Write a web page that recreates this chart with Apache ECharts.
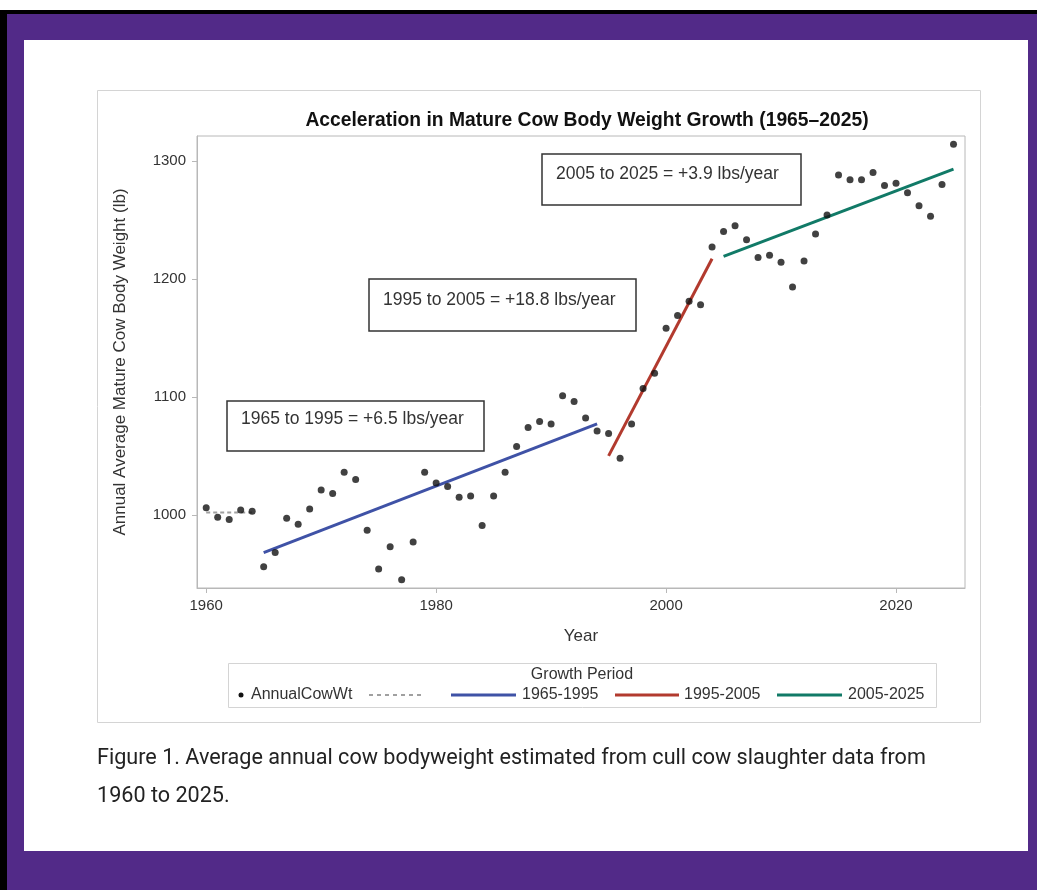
<!DOCTYPE html>
<html><head><meta charset="utf-8">
<script src="https://cdn.jsdelivr.net/npm/echarts@6/dist/echarts.min.js"></script>
<style>
html,body{margin:0;padding:0;background:#fff;width:1037px;height:890px;overflow:hidden;}
#frame{position:absolute;left:0;top:10px;width:1030px;height:876px;background:#522a88;border-left:7px solid #000;border-top:4px solid #000;}
#panel{position:absolute;left:24px;top:40px;width:1004px;height:811px;background:#fff;}
#chart{position:absolute;left:0;top:0;width:1037px;height:890px;}
#caption{position:absolute;left:97px;top:738px;font-family:Roboto,"Liberation Sans",sans-serif;font-size:21.6px;line-height:38px;color:#222;white-space:nowrap;}
</style></head>
<body>
<div id="frame"></div>
<div id="panel"></div>
<div id="chart"></div>
<div id="caption">Figure 1. Average annual cow bodyweight estimated from cull cow slaughter data from<br>1960 to 2025.</div>
<script>
const years = [1960,1961,1962,1963,1964,1965,1966,1967,1968,1969,1970,1971,1972,1973,1974,1975,1976,1977,1978,1979,1980,1981,1982,1983,1984,1985,1986,1987,1988,1989,1990,1991,1992,1993,1994,1995,1996,1997,1998,1999,2000,2001,2002,2003,2004,2005,2006,2007,2008,2009,2010,2011,2012,2013,2014,2015,2016,2017,2018,2019,2020,2021,2022,2023,2024,2025];
const weights = [1006,998,996,1004,1003,956,968,997,992,1005,1021,1018,1036,1030,987,954,973,945,977,1036,1027,1024,1015,1016,991,1016,1036,1058,1074,1079,1077,1101,1096,1082,1071,1069,1048,1077,1107,1120,1158,1169,1181,1178,1227,1240,1245,1233,1218,1220,1214,1193,1215,1238,1254,1288,1284,1284,1290,1279,1281,1273,1262,1253,1280,1314];
const preYears = [1960,1964];
const preLine = [1002,1002];
const trendYears1 = [1965,1994];
const trend1 = [968,1077];
const trendYears2 = [1995,2004];
const trend2 = [1050,1217];
const trendYears3 = [2005,2025];
const trend3 = [1219,1293];
const xTicks = [1960,1980,2000,2020];
const yTicks = [1000,1100,1200,1300];
const seriesNames = ['AnnualCowWt','1965-1995','1995-2005','2005-2025'];
const annotations = ['1965 to 1995 = +6.5 lbs/year','1995 to 2005 = +18.8 lbs/year','2005 to 2025 = +3.9 lbs/year'];

const FONT = '"Liberation Sans", Arial, sans-serif';
const BLUE = '#3f52a6', RED = '#b23a2e', GREEN = '#117a67';
const zip = (a,b) => a.map((v,i)=>[v,b[i]]);

const chart = echarts.init(document.getElementById('chart'));
const txt = {fontFamily: FONT, fontSize: 17.5, fill: '#333'};
const leg = {fontFamily: FONT, fontSize: 16, fill: '#333'};
chart.setOption({
  backgroundColor: 'transparent',
  animation: false,
  title: {text: 'Acceleration in Mature Cow Body Weight Growth (1965\u20132025)', left: 582, top: 106, textAlign: 'center',
    textStyle: {fontFamily: FONT, fontSize: 19.3, fontWeight: 'bold', color: '#111'}},
  grid: {left: 197, top: 136, right: 72, bottom: 302, show: true, borderColor: '#b8b8b8', borderWidth: 1, backgroundColor: 'transparent'},
  xAxis: {type: 'value', min: 1959.2, max: 2026, name: 'Year', nameLocation: 'middle', nameGap: 40,
    nameTextStyle: {fontFamily: FONT, fontSize: 17, color: '#333'},
    axisLine: {show: true, lineStyle: {color: '#b8b8b8'}},
    axisTick: {show: true, customValues: xTicks, length: 5, lineStyle: {color: '#b8b8b8'}},
    axisLabel: {customValues: xTicks, formatter: v => String(v), fontFamily: FONT, fontSize: 15, color: '#333', margin: 10},
    splitLine: {show: false}},
  yAxis: {type: 'value', min: 938, max: 1321, name: 'Annual Average Mature Cow Body Weight (lb)', nameLocation: 'middle', nameGap: 68,
    nameTextStyle: {fontFamily: FONT, fontSize: 17, color: '#333'},
    axisLine: {show: true, lineStyle: {color: '#b8b8b8'}},
    axisTick: {show: true, customValues: yTicks, length: 5, lineStyle: {color: '#b8b8b8'}},
    axisLabel: {customValues: yTicks, formatter: v => String(v), fontFamily: FONT, fontSize: 15, color: '#333', margin: 11},
    splitLine: {show: false}},
  series: [
    {name: 'pre', type: 'line', data: zip(preYears, preLine), symbol: 'none', lineStyle: {color: '#a0a0a0', width: 2, type: [4,3]}, z: 2},
    {name: seriesNames[1], type: 'line', data: zip(trendYears1, trend1), symbol: 'none', lineStyle: {color: BLUE, width: 3}, z: 3},
    {name: seriesNames[2], type: 'line', data: zip(trendYears2, trend2), symbol: 'none', lineStyle: {color: RED, width: 3}, z: 3},
    {name: seriesNames[3], type: 'line', data: zip(trendYears3, trend3), symbol: 'none', lineStyle: {color: GREEN, width: 3}, z: 3},
    {name: seriesNames[0], type: 'scatter', data: zip(years, weights), symbolSize: 7, itemStyle: {color: '#111'}, z: 4}
  ],
  graphic: [
    {type: 'rect', shape: {x: 97.5, y: 90.5, width: 883, height: 632}, style: {fill: 'none', stroke: '#d4d4d4', lineWidth: 1}, z: -1},
    {type: 'rect', shape: {x: 227, y: 401, width: 257, height: 50}, style: {fill: '#fff', stroke: '#333', lineWidth: 1.5}},
    {type: 'text', x: 241, y: 419, style: Object.assign({text: annotations[0], verticalAlign: 'middle'}, txt)},
    {type: 'rect', shape: {x: 369, y: 279, width: 267, height: 52}, style: {fill: '#fff', stroke: '#333', lineWidth: 1.5}},
    {type: 'text', x: 383, y: 300, style: Object.assign({text: annotations[1], verticalAlign: 'middle'}, txt)},
    {type: 'rect', shape: {x: 542, y: 154, width: 259, height: 51}, style: {fill: '#fff', stroke: '#333', lineWidth: 1.5}},
    {type: 'text', x: 556, y: 174, style: Object.assign({text: annotations[2], verticalAlign: 'middle'}, txt)},
    {type: 'rect', shape: {x: 228.5, y: 663.5, width: 708, height: 44}, style: {fill: '#fff', stroke: '#d4d4d4', lineWidth: 1}},
    {type: 'text', x: 582, y: 675, style: Object.assign({text: 'Growth Period', align: 'center', verticalAlign: 'middle'}, leg)},
    {type: 'circle', shape: {cx: 241, cy: 695, r: 2.5}, style: {fill: '#111'}},
    {type: 'text', x: 251, y: 695, style: Object.assign({text: seriesNames[0], verticalAlign: 'middle'}, leg)},
    {type: 'line', shape: {x1: 369, y1: 695, x2: 425, y2: 695}, style: {stroke: '#a0a0a0', lineWidth: 2, lineDash: [4,4]}},
    {type: 'line', shape: {x1: 451, y1: 695, x2: 516, y2: 695}, style: {stroke: BLUE, lineWidth: 3}},
    {type: 'text', x: 522, y: 695, style: Object.assign({text: seriesNames[1], verticalAlign: 'middle'}, leg)},
    {type: 'line', shape: {x1: 615, y1: 695, x2: 679, y2: 695}, style: {stroke: RED, lineWidth: 3}},
    {type: 'text', x: 684, y: 695, style: Object.assign({text: seriesNames[2], verticalAlign: 'middle'}, leg)},
    {type: 'line', shape: {x1: 777, y1: 695, x2: 842, y2: 695}, style: {stroke: GREEN, lineWidth: 3}},
    {type: 'text', x: 848, y: 695, style: Object.assign({text: seriesNames[3], verticalAlign: 'middle'}, leg)}
  ]
});
</script>
</body></html>
